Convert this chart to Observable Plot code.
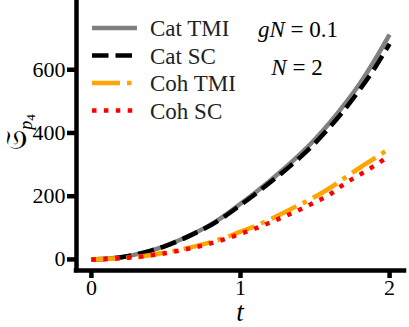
<!DOCTYPE html>
<html><head><meta charset="utf-8">
<script src="https://cdn.jsdelivr.net/npm/d3@7"></script>
<script src="https://cdn.jsdelivr.net/npm/@observablehq/plot@0.6"></script>
<style>body{margin:0;background:#fff} svg text{font-family:"Liberation Serif","DejaVu Serif",serif;}</style>
</head><body><div id="chart"></div>
<script>
const t = [0,0.1,0.2,0.3,0.4,0.5,0.6,0.7,0.8,0.9,1.0,1.1,1.2,1.3,1.4,1.5,1.6,1.7,1.8,1.9,2.0];
const catTMI = [0,2,7,16,28,44,63,85,110,141,176,212,250,290,333,380,433,492,556,630,711];
const catSC  = [0,2,7,16,28,43,62,84,108,138,172,207,244,282,323,368,419,475,537,605,682];
const cohTMI = [0,1,4,8,14,22,31,42,55,70,88,106,127,150,174,198,226,258,290,320,351];
const cohSC  = [0,1,4,7,13,20,29,39,51,65,81,98,117,137,158,181,206,240,268,297,328];
const seriesNames = ["Cat TMI","Cat SC","Coh TMI","Coh SC"];
const seriesValues = [catTMI, catSC, cohTMI, cohSC];
const seriesColors = ["#808080","#000000","#FFA500","#FF0000"];
const seriesDash = [null,"16.5,7","28,7,4.5,7","4.5,7.4"];
const xTicks = [0,1,2];
const yTicks = [0,200,400,600];

const LW = 4.5;

const lineMarks = seriesNames.map((name,i) =>
  Plot.line(t.map((tt,j)=>({t:tt, v:seriesValues[i][j]})), {
    x:"t", y:"v", stroke: seriesColors[i], strokeWidth: LW,
    strokeDasharray: seriesDash[i] || undefined, curve:"monotone-x", strokeLinecap:"butt"
  })
);

const plot = Plot.plot({
  width:409, height:327,
  marginLeft:76, marginRight:5, marginTop:0, marginBottom:57,
  x:{domain:[-0.1,2.1]},
  y:{domain:[-35,819]},
  style:"background:white;color:black;overflow:visible;font-size:22px;",
  marks:[
    ...lineMarks,
    Plot.ruleX([-0.1],{stroke:"black", strokeWidth:LW, strokeLinecap:"square"}),
    Plot.ruleY([-35],{stroke:"black", strokeWidth:LW, strokeLinecap:"square"}),
    Plot.axisX(xTicks,{tickSize:8, tickPadding:1, strokeWidth:LW, fontSize:22, label:null, stroke:"black", tickFormat:d=>String(d)}),
    Plot.axisY(yTicks,{tickSize:9, tickPadding:2, strokeWidth:LW, fontSize:22, label:null, stroke:"black", tickFormat:d=>String(d)})
  ]
});
document.getElementById("chart").appendChild(plot);

const svg = d3.select(plot);
const leg = svg.append("g").attr("font-size", 23).attr("text-anchor","start");
seriesNames.forEach((name,i) => {
  const y = 28 + i*27.5;
  leg.append("line").attr("x1",92).attr("x2",137).attr("y1",y).attr("y2",y)
    .attr("stroke",seriesColors[i]).attr("stroke-width",LW)
    .attr("stroke-dasharray",seriesDash[i]||null);
  leg.append("text").attr("x",150).attr("y",y).attr("dy","0.35em").attr("fill","#222").text(name);
});
const ann = svg.append("g").attr("font-size", 23).attr("text-anchor","middle");
const a1 = ann.append("text").attr("x",298).attr("y",29).attr("dy","0.35em");
a1.append("tspan").attr("font-style","italic").text("gN");
a1.append("tspan").text(" = 0.1");
const a2 = ann.append("text").attr("x",297).attr("y",67).attr("dy","0.35em");
a2.append("tspan").attr("font-style","italic").text("N");
a2.append("tspan").text(" = 2");

svg.append("text").attr("x",240).attr("y",321).attr("text-anchor","middle")
  .attr("font-size",27).attr("font-style","italic").text("t");

const yl = svg.append("text").attr("transform","translate(26,132) rotate(-90)").attr("text-anchor","middle")
  .attr("font-size",28);
yl.append("tspan").text("𝔖");
yl.append("tspan").attr("font-size",18).attr("font-style","italic").attr("dy","6").text("p");
yl.append("tspan").attr("font-size",13).attr("dy","3").text("4");
</script>
</body></html>
